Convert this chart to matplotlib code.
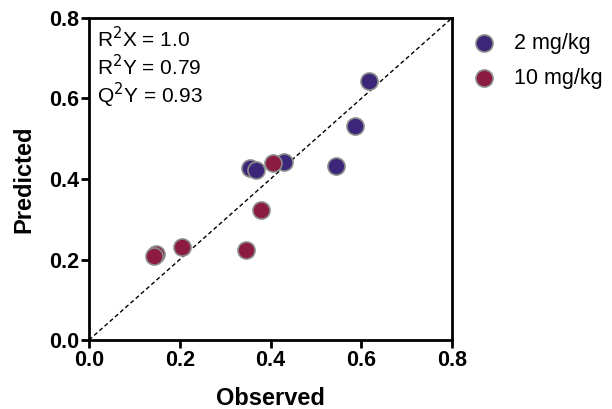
import matplotlib
matplotlib.use("Agg")
import matplotlib.pyplot as plt

plt.rcParams['font.family'] = ['Liberation Sans', 'DejaVu Sans']

# 2 mg/kg
obs_2 = [0.355, 0.368, 0.430, 0.544, 0.586, 0.616]
pred_2 = [0.427, 0.422, 0.443, 0.433, 0.532, 0.644]
# 10 mg/kg
obs_10 = [0.147, 0.144, 0.204, 0.346, 0.378, 0.405]
pred_10 = [0.213, 0.208, 0.232, 0.224, 0.323, 0.439]

stats = ["R$^2$X = 1.0", "R$^2$Y = 0.79", "Q$^2$Y = 0.93"]
ticks = [0.0, 0.2, 0.4, 0.6, 0.8]

fig = plt.figure(figsize=(6.12, 4.09), dpi=100)
ax = fig.add_axes([0.1454, 0.1687, 0.5932, 0.7873])

ax.plot([0, 0.8], [0, 0.8], ls=(0, (3, 2)), color="black", lw=1, zorder=1)
ax.scatter(obs_2, pred_2, s=150, color="#3b2679", edgecolor="#8a8a8a",
           linewidth=1.2, label="2 mg/kg", zorder=3)
ax.scatter(obs_10, pred_10, s=150, color="#8c1b42", edgecolor="#8a8a8a",
           linewidth=1.2, label="10 mg/kg", zorder=3)

ax.text(0.018, 0.779, "\n".join(stats), fontsize=15, va="top", ha="left",
        linespacing=1.1)

ax.set_xlim(0, 0.8)
ax.set_ylim(0, 0.8)
ax.set_xticks(ticks)
ax.set_yticks(ticks)
ax.set_xticklabels([f"{t:.1f}" for t in ticks], fontweight="bold", fontsize=15.5)
ax.set_yticklabels([f"{t:.1f}" for t in ticks], fontweight="bold", fontsize=15.5)
ax.tick_params(direction="out", length=6, width=2, pad=1)
for sp in ax.spines.values():
    sp.set_linewidth(2)
ax.set_xlabel("Observed", fontweight="bold", fontsize=17, labelpad=12)
ax.set_ylabel("Predicted", fontweight="bold", fontsize=17, labelpad=10)

ax.legend(loc="upper left", bbox_to_anchor=(0.975, 1.015), frameon=False,
          fontsize=15.5, handletextpad=0.4, labelspacing=0.65, markerscale=1.0)

fig.savefig("out.png", dpi=100)
